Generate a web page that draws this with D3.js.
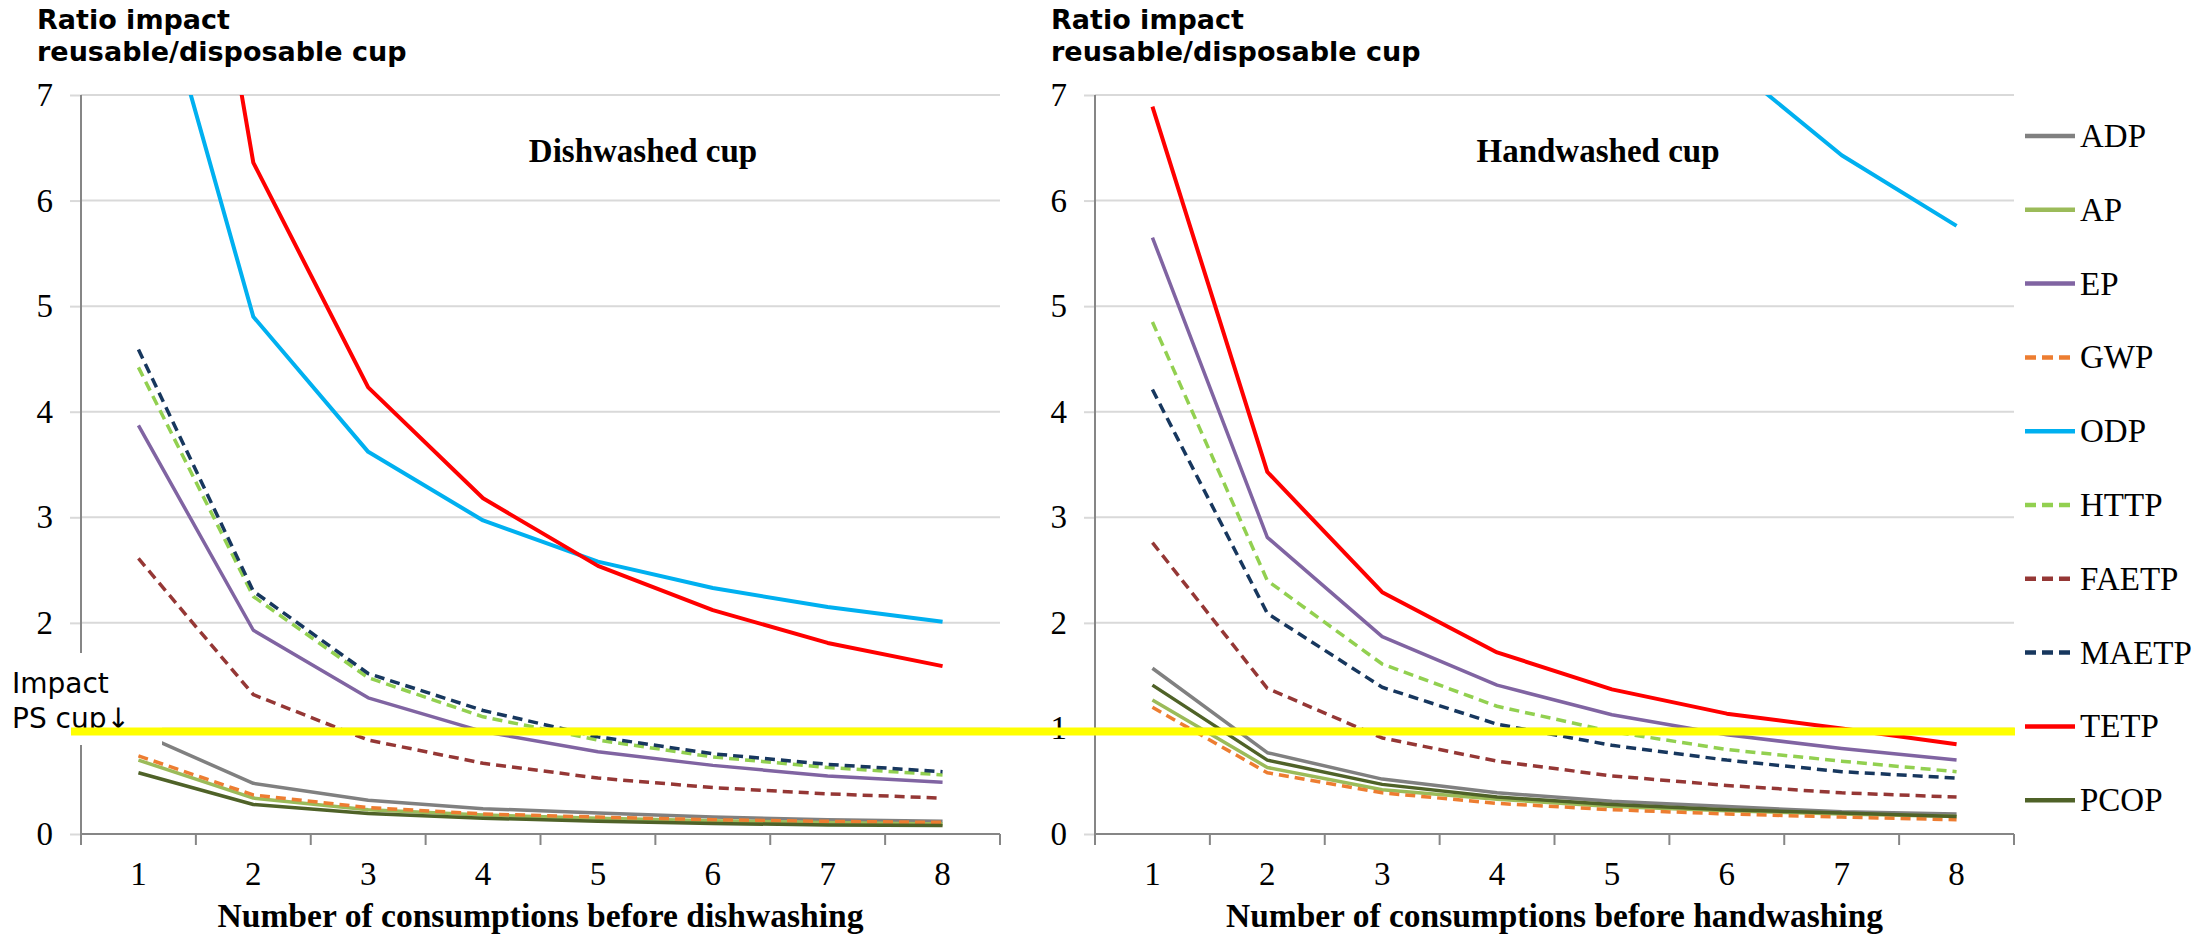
<!DOCTYPE html>
<html>
<head>
<meta charset="utf-8">
<script src="https://cdn.jsdelivr.net/npm/d3@7"></script>
<style>
  html, body { margin: 0; padding: 0; background: #fff; }
  svg { display: block; background: #fff; }
  .tick text, .x-label { font-family: 'Liberation Serif', 'Times New Roman', serif; font-size: 33px; fill: #000; }
  .panel-title, .axis-title { font-family: 'Liberation Serif', 'Times New Roman', serif; font-weight: bold; fill: #000; }
  .y-title { font-family: 'DejaVu Sans', Verdana, sans-serif; font-weight: bold; font-size: 27px; fill: #000; }
  .legend-label { font-family: 'Liberation Serif', 'Times New Roman', serif; font-size: 33px; fill: #000; }
  .ps-note { font-family: 'DejaVu Sans', Verdana, sans-serif; font-size: 28px; fill: #000; }
</style>
</head>
<body>
<svg id="chart" width="2197" height="935"></svg>
<script>
// Number of consumptions before washing (x categories)
const consumptions = [1, 2, 3, 4, 5, 6, 7, 8];
const indicators = ['ADP', 'AP', 'EP', 'GWP', 'ODP', 'HTTP', 'FAETP', 'MAETP', 'TETP', 'PCOP'];
const yTicks = [0, 1, 2, 3, 4, 5, 6, 7];

// Ratio impact reusable/disposable cup, rows in the order of `indicators`
const dishwashedValues = [
  [0.96, 0.48, 0.32, 0.24, 0.20, 0.16, 0.135, 0.12],
  [0.70, 0.34, 0.23, 0.18, 0.15, 0.125, 0.11, 0.095],
  [3.87, 1.93, 1.29, 0.97, 0.78, 0.65, 0.55, 0.49],
  [0.74, 0.37, 0.25, 0.19, 0.16, 0.135, 0.12, 0.11],
  [8.76, 4.90, 3.62, 2.97, 2.58, 2.33, 2.15, 2.01],
  [4.42, 2.25, 1.48, 1.11, 0.89, 0.73, 0.63, 0.56],
  [2.61, 1.32, 0.89, 0.67, 0.53, 0.44, 0.38, 0.34],
  [4.59, 2.30, 1.52, 1.17, 0.92, 0.76, 0.66, 0.59],
  [12.7, 6.36, 4.23, 3.18, 2.54, 2.12, 1.81, 1.59],
  [0.58, 0.28, 0.195, 0.15, 0.12, 0.10, 0.085, 0.08]
];
const handwashedValues = [
  [1.57, 0.77, 0.52, 0.39, 0.31, 0.26, 0.21, 0.19],
  [1.27, 0.63, 0.42, 0.33, 0.26, 0.22, 0.19, 0.165],
  [5.65, 2.81, 1.87, 1.41, 1.13, 0.94, 0.81, 0.70],
  [1.20, 0.58, 0.39, 0.29, 0.23, 0.19, 0.16, 0.135],
  [38.6, 19.8, 13.6, 10.4, 8.6, 7.32, 6.43, 5.76],
  [4.85, 2.40, 1.61, 1.21, 0.97, 0.80, 0.69, 0.59],
  [2.76, 1.38, 0.91, 0.69, 0.55, 0.46, 0.39, 0.35],
  [4.21, 2.09, 1.39, 1.04, 0.84, 0.70, 0.59, 0.53],
  [6.89, 3.43, 2.29, 1.72, 1.37, 1.14, 1.00, 0.85],
  [1.41, 0.70, 0.47, 0.35, 0.28, 0.23, 0.20, 0.165]
];

// Impact of the PS cup (reference level)
const impactPsCup = 0.97;

// Line styles per indicator
const lineColors = ['#808080', '#9bbb59', '#8064a2', '#ed7d31', '#00b0f0', '#92d050', '#953735', '#17375e', '#ff0000', '#4f6228'];
const lineDashed = [false, false, false, true, false, true, true, true, false, false];

const svg = d3.select('#chart');

class LinePanel {
  constructor(_config, _data) {
    this.config = _config;
    this.data = _data;
    this.initVis();
  }

  initVis() {
    let vis = this;
    const c = vis.config;

    vis.xScale = d3.scaleBand()
        .domain(consumptions)
        .range([c.left, c.right])
        .padding(0);

    vis.yScale = d3.scaleLinear()
        .domain([0, 7])
        .range([c.bottom, c.top]);

    vis.g = svg.append('g').attr('class', 'panel');

    // Gridlines
    vis.g.selectAll('.grid')
        .data(yTicks.filter(d => d > 0))
      .join('line')
        .attr('class', 'grid')
        .attr('x1', c.left)
        .attr('x2', c.right)
        .attr('y1', d => vis.yScale(d))
        .attr('y2', d => vis.yScale(d))
        .attr('stroke', '#d9d9d9')
        .attr('stroke-width', 2);

    // Y axis (labels hidden under the note box are left out)
    vis.yAxis = d3.axisLeft(vis.yScale)
        .tickValues(yTicks)
        .tickSize(11)
        .tickPadding(17)
        .tickFormat(d => (c.hiddenTicks || []).includes(d) ? '' : d3.format('d')(d));

    vis.g.append('g')
        .attr('class', 'axis y-axis')
        .attr('transform', `translate(${c.left},0)`)
        .call(vis.yAxis)
        .call(g => g.select('.domain').remove())
        .call(g => g.selectAll('.tick line').attr('stroke', '#d9d9d9').attr('stroke-width', 2))
        .call(g => g.selectAll('.tick text').attr('font-size', null).attr('font-family', null));

    vis.g.append('line')
        .attr('x1', c.left).attr('x2', c.left)
        .attr('y1', c.top).attr('y2', c.bottom)
        .attr('stroke', '#868686')
        .attr('stroke-width', 2);

    // X axis: line, ticks at category boundaries, labels centred
    vis.g.append('line')
        .attr('x1', c.left).attr('x2', c.right)
        .attr('y1', c.bottom).attr('y2', c.bottom)
        .attr('stroke', '#868686')
        .attr('stroke-width', 2);

    vis.g.selectAll('.x-tick')
        .data(consumptions.map(d => vis.xScale(d)).concat([c.right]))
      .join('line')
        .attr('class', 'x-tick')
        .attr('x1', d => d).attr('x2', d => d)
        .attr('y1', c.bottom).attr('y2', c.bottom + 11)
        .attr('stroke', '#868686')
        .attr('stroke-width', 2);

    vis.g.selectAll('.x-label')
        .data(consumptions)
      .join('text')
        .attr('class', 'x-label')
        .attr('x', d => vis.xScale(d) + vis.xScale.bandwidth() / 2)
        .attr('y', c.bottom + 51)
        .attr('text-anchor', 'middle')
        .text(d => d);

    // Titles
    vis.g.append('text')
        .attr('class', 'panel-title')
        .attr('x', c.titleX)
        .attr('y', 162)
        .attr('text-anchor', 'middle')
        .style('font-size', '33px')
        .text(c.title);

    vis.g.append('text')
        .attr('class', 'axis-title')
        .attr('x', (c.left + c.right) / 2)
        .attr('y', 927)
        .attr('text-anchor', 'middle')
        .style('font-size', '33px')
        .attr('textLength', c.xTitleLength)
        .attr('lengthAdjust', 'spacingAndGlyphs')
        .text(c.xTitle);

    const yTitle = vis.g.append('text')
        .attr('class', 'y-title')
        .attr('x', c.yTitleX);
    yTitle.append('tspan').attr('x', c.yTitleX).attr('y', 29).text('Ratio impact');
    yTitle.append('tspan').attr('x', c.yTitleX).attr('y', 61).text('reusable/disposable cup');

    // Clip the lines to the plot area
    vis.clipId = 'clip-' + c.id;
    svg.append('clipPath')
        .attr('id', vis.clipId)
      .append('rect')
        .attr('x', c.left)
        .attr('y', c.top)
        .attr('width', c.right - c.left)
        .attr('height', c.bottom - c.top + 4);

    vis.updateVis();
  }

  updateVis() {
    let vis = this;
    vis.series = indicators.map((name, i) => ({
      name,
      color: lineColors[i],
      dashed: lineDashed[i],
      values: vis.data[i].map((v, j) => ({ x: consumptions[j], y: v }))
    }));
    vis.line = d3.line()
        .x(d => vis.xScale(d.x) + vis.xScale.bandwidth() / 2)
        .y(d => vis.yScale(d.y));
    vis.renderVis();
  }

  renderVis() {
    let vis = this;
    vis.g.append('g')
        .attr('clip-path', `url(#${vis.clipId})`)
      .selectAll('.series')
        .data(vis.series, d => d.name)
      .join('path')
        .attr('class', 'series')
        .attr('fill', 'none')
        .attr('stroke', d => d.color)
        .attr('stroke-width', d => d.name === 'TETP' || d.name === 'ODP' ? 4 : 3.5)
        .attr('stroke-dasharray', d => d.dashed ? '10,6' : null)
        .attr('stroke-linejoin', 'round')
        .attr('d', d => vis.line(d.values));
  }
}

const dishPanel = new LinePanel({
  id: 'dish', left: 81, right: 1000, top: 95, bottom: 834,
  title: 'Dishwashed cup', titleX: 643,
  xTitle: 'Number of consumptions before dishwashing', xTitleLength: 646,
  yTitleX: 37, hiddenTicks: [1]
}, dishwashedValues);

const handPanel = new LinePanel({
  id: 'hand', left: 1095, right: 2014, top: 95, bottom: 834,
  title: 'Handwashed cup', titleX: 1598,
  xTitle: 'Number of consumptions before handwashing', xTitleLength: 657,
  yTitleX: 1051
}, handwashedValues);

// "Impact PS cup" note on a white box over the left axis
svg.append('rect')
    .attr('x', 0).attr('y', 653)
    .attr('width', 162).attr('height', 92)
    .attr('fill', '#fff');
const note = svg.append('text').attr('class', 'ps-note');
note.append('tspan').attr('x', 12).attr('y', 693).text('Impact');
note.append('tspan').attr('x', 12).attr('y', 728).text('PS cup↓');

// Reference line at the PS cup level
svg.append('line')
    .attr('x1', 71).attr('x2', 2015)
    .attr('y1', dishPanel.yScale(impactPsCup))
    .attr('y2', dishPanel.yScale(impactPsCup))
    .attr('stroke', '#ffff00')
    .attr('stroke-width', 8);

// Legend
const legend = svg.append('g')
    .attr('class', 'legend')
    .attr('transform', 'translate(2025,136)');

const legendItems = legend.selectAll('.legend-item')
    .data(indicators)
  .join('g')
    .attr('class', 'legend-item')
    .attr('transform', (d, i) => `translate(0,${i * 73.8})`);

legendItems.append('line')
    .attr('x1', 0).attr('x2', (d, i) => lineDashed[i] ? 46 : 50)
    .attr('stroke', (d, i) => lineColors[i])
    .attr('stroke-width', 4.5)
    .attr('stroke-dasharray', (d, i) => lineDashed[i] ? '11,6' : null);

legendItems.append('text')
    .attr('class', 'legend-label')
    .attr('x', 55)
    .attr('y', 11)
    .text(d => d);
</script>
</body>
</html>
